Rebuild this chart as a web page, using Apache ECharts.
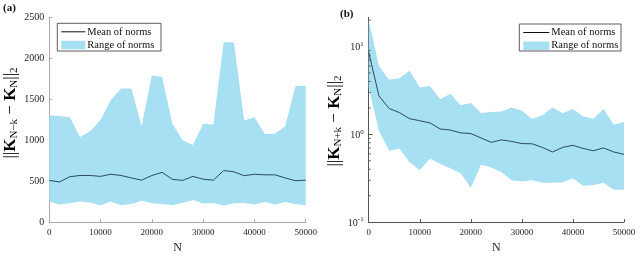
<!DOCTYPE html>
<html>
<head>
<meta charset="utf-8">
<script src="https://cdn.jsdelivr.net/npm/echarts@6/dist/echarts.min.js"></script>
<style>html,body{margin:0;padding:0;background:#fff}#c{width:640px;height:259px}</style>
</head>
<body>
<div id="c"></div>
<script>
// ---- data ----
const N = [0,2000,4000,6000,8000,10000,12000,14000,16000,18000,20000,22000,24000,26000,28000,30000,32000,34000,36000,38000,40000,42000,44000,46000,48000,50000];
const leftUpper = [1300,1295,1280,1040,1110,1250,1490,1630,1630,1170,1790,1770,1200,1000,940,1200,1190,2195,2195,1240,1280,1075,1080,1170,1660,1665];
const leftMean  = [509,490,554,569,569,558,584,569,539,512,569,607,522,509,558,524,512,629,614,566,584,577,577,539,505,512];
const leftLower = [252,215,230,252,237,207,252,207,222,260,230,222,207,237,271,226,233,204,230,233,215,245,215,245,222,207];
const rightUpper = [20.2,6.0,4.18,4.35,5.3,3.42,3.55,2.51,2.9,2.14,2.28,1.75,1.8,1.82,2.02,1.86,1.5,1.65,2.02,1.74,1.94,1.6,1.51,1.94,1.29,1.38];
const rightMean  = [8.65,2.75,1.97,1.77,1.51,1.43,1.35,1.15,1.12,1.04,1.02,0.91,0.81,0.865,0.83,0.785,0.78,0.71,0.63,0.71,0.75,0.69,0.65,0.70,0.63,0.59];
const rightLower = [3.4,1.1,0.65,0.69,0.48,0.39,0.53,0.46,0.41,0.36,0.247,0.45,0.42,0.37,0.30,0.29,0.30,0.28,0.28,0.285,0.315,0.26,0.265,0.28,0.233,0.233];
const rightMajor = [0.1,1,10];
const rightMinor = [0.2,0.3,0.4,0.5,0.6,0.7,0.8,0.9,2,3,4,5,6,7,8,9,20];
const legendNames = ['Mean of norms', 'Range of norms'];

// ---- styles ----
const SERIF = '"Liberation Serif","Times New Roman",serif';
const FILL = '#a7dff3';
const LINE = '#2b4b5a';

const pairs = (xs, ys) => xs.map((x, i) => [x, ys[i]]);

function xAxis(gi, color) {
  return {
    type: 'value', gridIndex: gi, min: 0, max: 50000, interval: 10000,
    name: 'N', nameLocation: 'middle', nameGap: 12,
    nameTextStyle: {fontFamily: SERIF, fontSize: 12, color: '#222'},
    axisLine: {onZero: false, lineStyle: {color: color, width: 1}},
    axisTick: {inside: true, length: 3, lineStyle: {color: color}},
    axisLabel: {fontFamily: SERIF, fontSize: 9, color: '#222', margin: 6, formatter: v => String(v)},
    splitLine: {show: false}
  };
}

const supRich = {
  b: {fontFamily: SERIF, fontSize: 10, color: '#222', lineHeight: 12, verticalAlign: 'bottom'},
  s: {fontFamily: SERIF, fontSize: 7, color: '#222', lineHeight: 8, verticalAlign: 'top'}
};

const titleRich = {
  m: {fontFamily: SERIF, fontSize: 17, color: '#111', lineHeight: 18, verticalAlign: 'top'},
  K: {fontFamily: SERIF, fontSize: 17, fontWeight: 'bold', color: '#111', lineHeight: 18, verticalAlign: 'top'},
  s: {fontFamily: SERIF, fontSize: 11, color: '#111', lineHeight: 11, verticalAlign: 'bottom', padding: [10,0,0,0]}
};

function bandSeries(xi, upper, lower) {
  return {
    type: 'custom', name: 'Range of norms', xAxisIndex: xi, yAxisIndex: xi, silent: true, z: 2,
    itemStyle: {color: FILL},
    data: pairs(N, upper),
    renderItem: (params, api) => {
      if (params.dataIndex !== 0) return null;
      const pts = [];
      for (let i = 0; i < N.length; i++) pts.push(api.coord([N[i], upper[i]]));
      for (let i = N.length - 1; i >= 0; i--) pts.push(api.coord([N[i], lower[i]]));
      return {type: 'polygon', shape: {points: pts}, style: {fill: FILL, stroke: null}};
    }
  };
}

// legend box drawn as graphics: x0,y0 = top-left of box
function legendBox(x0, y0, w, h, iw) {
  return {
    type: 'group', x: x0, y: y0, z: 100,
    children: [
      {type: 'rect', shape: {x: 0, y: 0, width: w, height: h}, style: {fill: '#fff', stroke: '#333', lineWidth: 0.8}},
      {type: 'line', shape: {x1: 4, y1: 8.5, x2: 4 + iw, y2: 8.5}, style: {stroke: '#111', lineWidth: 1}},
      {type: 'rect', shape: {x: 4, y: 17.5, width: iw, height: 8.5}, style: {fill: FILL}},
      {type: 'text', x: 6 + iw, y: 8.5, style: {text: legendNames[0], fontFamily: SERIF, fontSize: 10.5, fill: '#111', verticalAlign: 'middle'}},
      {type: 'text', x: 6 + iw, y: 21.5, style: {text: legendNames[1], fontFamily: SERIF, fontSize: 10.5, fill: '#111', verticalAlign: 'middle'}}
    ]
  };
}

const option = {
  animation: false,
  grid: [
    {left: 49.3, top: 17.3, width: 256.4, height: 221},
    {left: 368.7, top: 17.4, width: 255.3, height: 220.9}
  ],
  xAxis: [xAxis(0, '#aaa'), xAxis(1, '#555')],
  yAxis: [
    {
      type: 'value', gridIndex: 0, min: 0, max: 2500, interval: 500,
      axisLine: {show: true, lineStyle: {color: '#aaa'}},
      axisTick: {show: true, inside: true, length: 3, lineStyle: {color: '#aaa'}},
      axisLabel: {fontFamily: SERIF, fontSize: 10, color: '#222', margin: 5, formatter: v => String(v)},
      splitLine: {show: false}
    },
    {
      type: 'log', logBase: 10, gridIndex: 1, min: 0.1, max: 21.5,
      axisLine: {show: true, lineStyle: {color: '#555'}},
      axisTick: {show: true, inside: true, length: 4, lineStyle: {color: '#555'}, customValues: rightMajor},
      axisLabel: {
        margin: 5, customValues: rightMajor, rich: supRich,
        formatter: v => '{b|10}{s|' + Math.round(Math.log10(v)) + '}'
      },
      splitLine: {show: false}
    }
  ],
  graphic: [
    {type: 'text', x: 3, y: 3, style: {text: '(a)', fontFamily: SERIF, fontSize: 11, fontWeight: 'bold', fill: '#111'}},
    {type: 'text', x: 340, y: 9, style: {text: '(b)', fontFamily: SERIF, fontSize: 11, fontWeight: 'bold', fill: '#111'}},
    {type: 'text', x: 11, y: 113, rotation: Math.PI / 2,
     style: {text: '{m|||}{K|K}{s|N−k}{m| − }{K|K}{s|N}{m|||}{s|2}', rich: titleRich, align: 'center', verticalAlign: 'middle'}},
    {type: 'text', x: 335, y: 121, rotation: Math.PI / 2,
     style: {text: '{m|||}{K|K}{s|N+k}{m| − }{K|K}{s|N}{m|||}{s|2}', rich: titleRich, align: 'center', verticalAlign: 'middle'}},
    legendBox(57.3, 23.3, 103.7, 27.7, 24),
    legendBox(519.3, 24, 101.7, 27, 26)
  ],
  series: [
    bandSeries(0, leftUpper, leftLower),
    {type: 'line', name: 'Mean of norms', xAxisIndex: 0, yAxisIndex: 0, symbol: 'none',
     lineStyle: {width: 1, color: LINE}, itemStyle: {color: '#111'}, data: pairs(N, leftMean), z: 5},
    bandSeries(1, rightUpper, rightLower),
    {type: 'line', name: 'Mean of norms', xAxisIndex: 1, yAxisIndex: 1, symbol: 'none',
     lineStyle: {width: 1, color: LINE}, itemStyle: {color: '#111'}, data: pairs(N, rightMean), z: 5},
    {type: 'custom', xAxisIndex: 1, yAxisIndex: 1, silent: true, z: 6,
     data: rightMinor.map(v => [0, v]),
     renderItem: (params, api) => {
       const p = api.coord([api.value(0), api.value(1)]);
       return {type: 'line', shape: {x1: p[0], y1: p[1], x2: p[0] + 2, y2: p[1]}, style: {stroke: '#555', lineWidth: 1}};
     }}
  ]
};

const chart = echarts.init(document.getElementById('c'), null, {renderer: 'canvas'});
chart.setOption(option);
</script>
</body>
</html>
